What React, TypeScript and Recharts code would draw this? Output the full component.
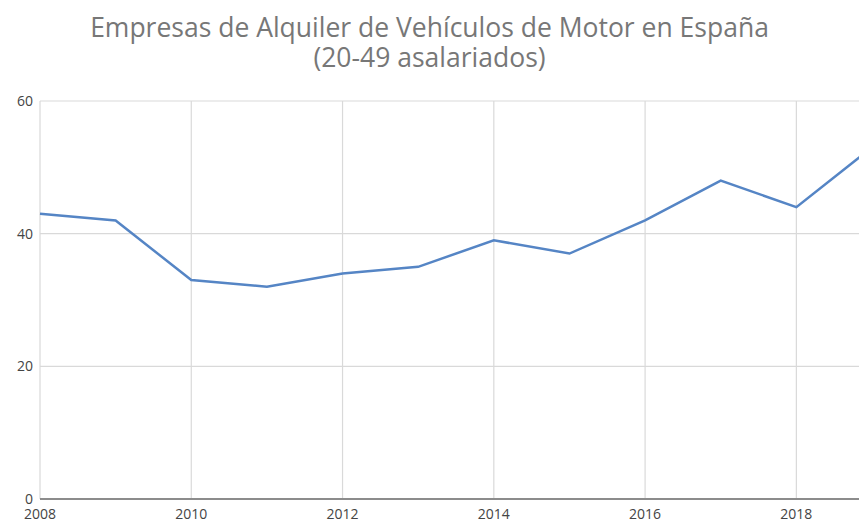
import React from 'react';
import { LineChart, Line, XAxis, YAxis, CartesianGrid } from 'recharts';

const years = [2008, 2009, 2010, 2011, 2012, 2013, 2014, 2015, 2016, 2017, 2018, 2019];
const empresas = [43, 42, 33, 32, 34, 35, 39, 37, 42, 48, 44, 53];
const xTicks = [2008, 2010, 2012, 2014, 2016, 2018];
const yTicks = [0, 20, 40, 60];

const titleLines = ['Empresas de Alquiler de Vehículos de Motor en España', '(20-49 asalariados)'];

const data = years.map((year, i) => ({ year, empresas: empresas[i] }));

const tickStyle = { fontFamily: '"Open Sans", sans-serif', fontSize: 14, fill: '#444' };

export default function App() {
    return (
        <div
            style={{
                position: 'absolute',
                left: 0,
                top: 0,
                width: 859,
                height: 523,
                overflow: 'hidden',
                background: '#fff',
            }}
        >
            {titleLines.map((t, i) => (
                <div
                    key={t}
                    style={{
                        position: 'absolute',
                        top: 12 + i * 30,
                        left: 0,
                        width: 859,
                        height: 30,
                        textAlign: 'center',
                        fontFamily: '"Open Sans", sans-serif',
                        fontSize: 26.5,
                        lineHeight: '30px',
                        color: '#777',
                    }}
                >
                    {t}
                </div>
            ))}
            <LineChart
                width={872}
                height={523}
                data={data}
                margin={{ top: 101, right: 0, left: 0, bottom: 0 }}
            >
                <CartesianGrid stroke="#d9d9d9" strokeWidth={1.2} />
                <XAxis
                    dataKey="year"
                    type="number"
                    domain={[2008, 2019]}
                    ticks={xTicks}
                    height={24}
                    tickLine={false}
                    tickMargin={4}
                    axisLine={{ stroke: '#8c8c8c', strokeWidth: 1.8 }}
                    tick={tickStyle}
                />
                <YAxis
                    domain={[0, 60]}
                    ticks={yTicks}
                    width={40}
                    tickLine={false}
                    tickMargin={1}
                    axisLine={false}
                    tick={tickStyle}
                />
                <Line
                    type="linear"
                    dataKey="empresas"
                    stroke="#5585c5"
                    strokeWidth={2.5}
                    dot={false}
                    isAnimationActive={false}
                />
            </LineChart>
        </div>
    );
}
